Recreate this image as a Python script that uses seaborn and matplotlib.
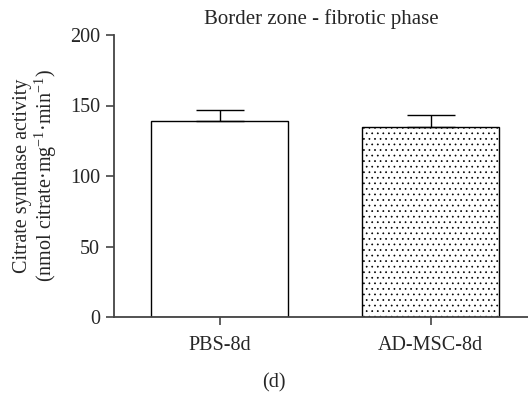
import matplotlib
matplotlib.use("Agg")
import matplotlib.pyplot as plt
import seaborn as sns
import pandas as pd

groups = ["PBS-8d", "AD-MSC-8d"]
means = [139, 135]
errs = [8, 8]
hatches = ["", "..."]
yticks = [0, 50, 100, 150, 200]

sns.set_style("ticks")
plt.rcParams["font.family"] = ["Liberation Serif", "DejaVu Serif"]
plt.rcParams["mathtext.fontset"] = "custom"
plt.rcParams["mathtext.rm"] = "Liberation Serif"
plt.rcParams["mathtext.it"] = "Liberation Serif:italic"
plt.rcParams["mathtext.bf"] = "Liberation Serif:bold"
plt.rcParams["hatch.linewidth"] = 0.5
plt.rcParams["hatch.color"] = "black"

df = pd.DataFrame({"group": groups, "mean": means})

fig = plt.figure(figsize=(5.28, 4.0), dpi=100)
ax = fig.add_axes([0.216, 0.2075, 0.784, 0.705])

sns.barplot(data=df, x="group", y="mean", ax=ax, color="white",
            edgecolor="black", linewidth=1.0, width=0.65, errorbar=None)
for patch, h in zip(ax.patches, hatches):
    patch.set_hatch(h)
    patch.set_facecolor("white")

ax.errorbar(range(len(groups)), means, yerr=[[0] * len(errs), errs],
            fmt="none", ecolor="black", elinewidth=1.0, capsize=17, capthick=1.0)

ax.set_xlim(-0.5, 1.462)
ax.set_ylim(0, 200)
ax.set_yticks(yticks)
ax.set_xlabel("")
ax.set_ylabel("Citrate synthase activity\n(nmol citrate·mg$^{\\mathrm{-1}}$·min$^{\\mathrm{-1}}$)",
              fontsize=14.5, linespacing=1.05, labelpad=8)
ax.set_title("Border zone - fibrotic phase", fontsize=15, pad=8)
ax.tick_params(axis="y", labelsize=14.5, length=6, width=1.2, color="#444444", pad=4)
ax.tick_params(axis="x", labelsize=14.5, length=6, width=1.2, color="#444444", pad=8)
for s in ["left", "bottom"]:
    ax.spines[s].set_color("#444444")
    ax.spines[s].set_linewidth(1.3)
sns.despine(ax=ax)

fig.text(0.519, 0.042, "(d)", ha="center", va="center", fontsize=14.5)

fig.savefig("out.png", dpi=100)
